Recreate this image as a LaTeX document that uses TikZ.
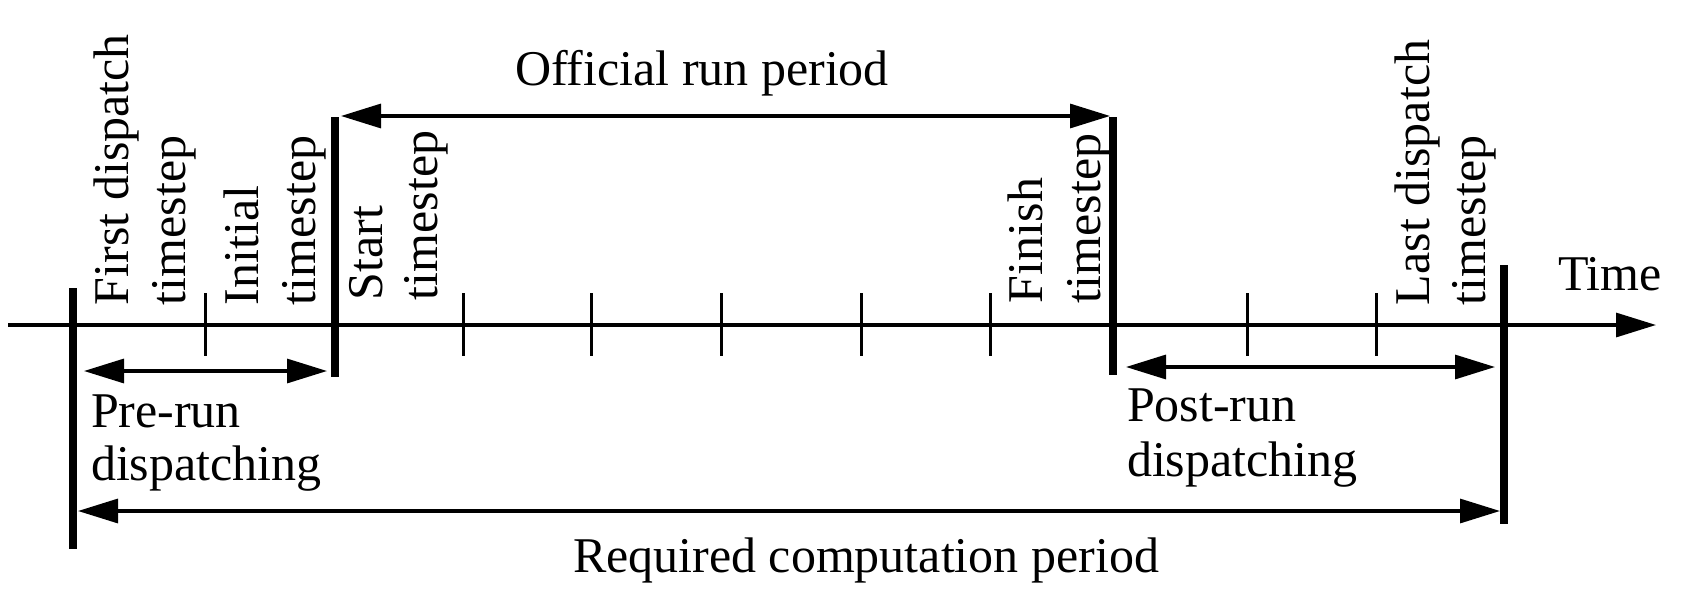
\documentclass[tikz,border=0pt]{standalone}
\usepackage{fontspec}
\setmainfont{Liberation Serif}
\usetikzlibrary{arrows.meta}
\begin{document}
\begin{tikzpicture}[x=0.5pt,y=-0.5pt,
  axisline/.style={line width=1.6pt},
  tickline/.style={line width=1.5pt},
  barline/.style={line width=4pt},
  dimline/.style={line width=1.6pt,{Triangle[length=20pt,width=12pt]}-{Triangle[length=20pt,width=12pt]}},
  timearrow/.style={line width=1.6pt,-{Triangle[length=20pt,width=12pt]}},
  lbl/.style={inner sep=0pt,outer sep=0pt,anchor=base west,font=\fontsize{25pt}{29pt}\selectfont},
  vlbl/.style={lbl,rotate=90}]
\useasboundingbox (0,0) rectangle (1682,594);
% axis
\coordinate (axL) at (8,325);
\coordinate (axR) at (1656,325);
\draw[timearrow] (axL) -- (axR);
% ticks
\foreach \tx [count=\i] in {205,463,591,721,861,990,1247,1376}{
  \coordinate (t\i a) at (\tx,293);
  \coordinate (t\i b) at (\tx,356);
  \draw[tickline] (t\i a) -- (t\i b);
}
% thick bars
\coordinate (b1t) at (73,288);   \coordinate (b1b) at (73,549);
\coordinate (b2t) at (335,117);  \coordinate (b2b) at (335,377);
\coordinate (b3t) at (1113,117); \coordinate (b3b) at (1113,375);
\coordinate (b4t) at (1504,265); \coordinate (b4b) at (1504,524);
\draw[barline] (b1t) -- (b1b);
\draw[barline] (b2t) -- (b2b);
\draw[barline] (b3t) -- (b3b);
\draw[barline] (b4t) -- (b4b);
% dimension arrows
\coordinate (offL) at (341,116);  \coordinate (offR) at (1110,116);
\coordinate (preL) at (84,371);   \coordinate (preR) at (327,371);
\coordinate (postL) at (1126,367);\coordinate (postR) at (1495,367);
\coordinate (reqL) at (78,511);   \coordinate (reqR) at (1500,511);
\draw[dimline] (offL) -- (offR);
\draw[dimline] (preL) -- (preR);
\draw[dimline] (postL) -- (postR);
\draw[dimline] (reqL) -- (reqR);
% vertical labels
\node[vlbl] (fd1) at (128,305) {First dispatch};
\node[vlbl] (fd2) at (185,305) {timestep};
\node[vlbl] (in1) at (258,305) {Initial};
\node[vlbl] (in2) at (315,305) {timestep};
\node[vlbl] (st1) at (382,300) {Start};
\node[vlbl] (st2) at (437,300) {timestep};
\node[vlbl] (fi1) at (1042,303) {Finish};
\node[vlbl] (fi2) at (1100,303) {timestep};
\node[vlbl] (ld1) at (1429,305) {Last dispatch};
\node[vlbl] (ld2) at (1485,305) {timestep};
% horizontal labels
\node[lbl] (orp) at (515,85) {Official run period};
\node[lbl] (time) at (1558,290) {Time};
\node[lbl] (pre1) at (91,427) {Pre-run};
\node[lbl] (pre2) at (91,480) {dispatching};
\node[lbl] (post1) at (1127,421) {Post-run};
\node[lbl] (post2) at (1127,476) {dispatching};
\node[lbl] (rcp) at (573,572) {Required computation period};
\end{tikzpicture}
\end{document}
